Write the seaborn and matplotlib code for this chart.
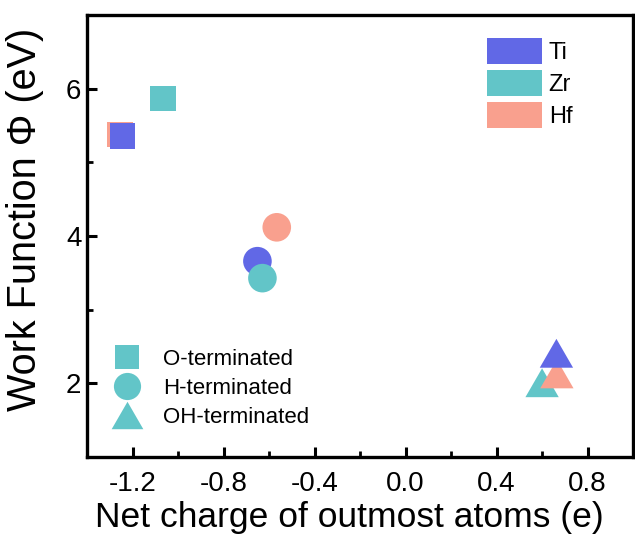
import numpy as np
import pandas as pd
import matplotlib
matplotlib.use("Agg")
import matplotlib.pyplot as plt
from matplotlib.patches import Patch
from matplotlib.lines import Line2D
import seaborn as sns

# Work function vs. net charge of the outmost atoms for M2C MXenes
elements = ["Ti", "Zr", "Hf"]
terminations = ["O-terminated", "H-terminated", "OH-terminated"]

charge_O = [-1.244, -1.067, -1.255]
wf_O = [5.36, 5.87, 5.38]
charge_H = [-0.651, -0.629, -0.566]
wf_H = [3.66, 3.43, 4.12]
charge_OH = [0.663, 0.600, 0.665]
wf_OH = [2.41, 2.01, 2.13]

x_ticks = [-1.2, -0.8, -0.4, 0.0, 0.4, 0.8]
y_ticks = [2, 4, 6]

palette = {"Ti": "#6168E6", "Zr": "#62C5C8", "Hf": "#F9A08E"}

# drawing order inside each termination group (later rows sit on top)
draw_order = {
    "O-terminated": ["Hf", "Ti", "Zr"],
    "H-terminated": ["Hf", "Ti", "Zr"],
    "OH-terminated": ["Zr", "Hf", "Ti"],
}

tri = [(0, 0.433), (-0.5, -0.433), (0.5, -0.433)]
markers = {"O-terminated": "s", "H-terminated": "o", "OH-terminated": tri}
msize = {"O-terminated": 18.5, "H-terminated": 20.6, "OH-terminated": 24.0}

frames = []
for term, xs, ys in zip(terminations, [charge_O, charge_H, charge_OH], [wf_O, wf_H, wf_OH]):
    frames.append(pd.DataFrame({"element": elements, "charge": xs, "wf": ys, "term": term}))
df = pd.concat(frames, ignore_index=True)

sns.set_style("white")
plt.rcParams["font.family"] = ["Liberation Sans", "DejaVu Sans"]
plt.rcParams["axes.unicode_minus"] = False
for key in ["text.color", "axes.labelcolor", "xtick.color", "ytick.color"]:
    plt.rcParams[key] = "black"

fig = plt.figure(figsize=(6.35, 5.41), dpi=100)
ax = fig.add_axes([0.137, 0.155, 0.860, 0.817])

for term in terminations:
    sub = df[df["term"] == term].set_index("element").loc[draw_order[term]].reset_index()
    sns.scatterplot(data=sub, x="charge", y="wf", hue="element", palette=palette,
                    marker=markers[term], s=msize[term] ** 2, linewidth=0,
                    alpha=1, legend=False, ax=ax, zorder=3)

ax.set_xlim(-1.4, 1.0)
ax.set_ylim(1, 7)
ax.set_xticks(x_ticks)
ax.set_xticklabels([f"{v:.1f}" for v in x_ticks])
ax.set_yticks(y_ticks)
ax.set_xticks(np.arange(-1.2, 1.0, 0.2), minor=True)
ax.set_yticks([3, 5], minor=True)
ax.tick_params(axis="x", which="major", pad=10)
ax.tick_params(axis="y", which="major", pad=4)
ax.tick_params(axis="both", which="major", direction="in", length=7, width=2.2,
               labelsize=20, top=False, right=False, bottom=True, left=True)
ax.tick_params(axis="both", which="minor", direction="in", length=4, width=2.0,
               top=False, right=False, bottom=True, left=True)
for s in ax.spines.values():
    s.set_linewidth(2.4)
    s.set_color("black")

ax.set_xlabel("Net charge of outmost atoms (e)", fontsize=25.5)
ax.set_ylabel("Work Function \u03a6 (eV)", fontsize=28.5)
ax.xaxis.set_label_coords(0.481, -0.100)
ax.yaxis.set_label_coords(-0.079, 0.537)

# element colour key
el_handles = [Patch(facecolor=palette[e], edgecolor="none", label=e) for e in elements]
leg1 = ax.legend(handles=el_handles, loc="upper left", bbox_to_anchor=(0.733, 0.948),
                 frameon=False, fontsize=17, handlelength=2.3, handleheight=1.3,
                 handletextpad=0.3, labelspacing=0.26, borderaxespad=0, borderpad=0)
ax.add_artist(leg1)

# termination marker key
mk_handles = [Line2D([], [], linestyle="none", marker=markers[t], markersize=msize[t] * 0.95,
                     markerfacecolor=palette["Zr"], markeredgewidth=0, label=t)
              for t in terminations]
ax.legend(handles=mk_handles, loc="lower left", bbox_to_anchor=(0.046, 0.066),
          frameon=False, fontsize=16, handlelength=1.35, handletextpad=0.95,
          labelspacing=0.36, borderaxespad=0, borderpad=0)

fig.savefig("out.png", dpi=100)
